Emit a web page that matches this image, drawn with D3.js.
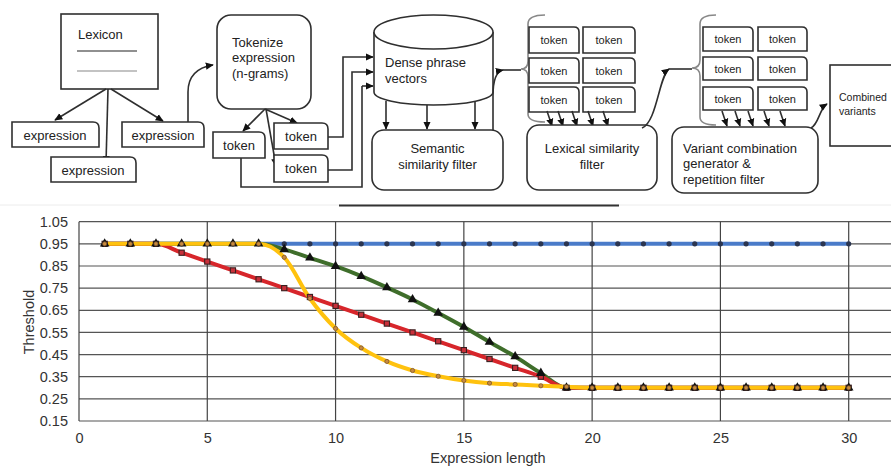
<!DOCTYPE html>
<html><head><meta charset="utf-8">
<script src="https://cdn.jsdelivr.net/npm/d3@7/dist/d3.min.js"></script>
<style>body{margin:0;background:#fff}svg{display:block;font-family:"Liberation Sans",Arial,sans-serif}</style>
</head><body>
<svg id="c" width="891" height="467"></svg>
<script>
// ---------- data ----------
const xValues = d3.range(1, 31);
const seriesNames = ["blue", "green", "red", "yellow"];
const blueValues = xValues.map(() => 0.95);
const greenValues = [0.95,0.95,0.95,0.95,0.95,0.95,0.95,0.925,0.887,0.849,0.804,0.753,0.699,0.638,0.575,0.507,0.441,0.366,0.30,0.30,0.30,0.30,0.30,0.30,0.30,0.30,0.30,0.30,0.30,0.30];
const redValues = [0.95,0.95,0.95,0.91,0.87,0.83,0.79,0.75,0.71,0.67,0.63,0.59,0.55,0.51,0.47,0.43,0.39,0.35,0.30,0.30,0.30,0.30,0.30,0.30,0.30,0.30,0.30,0.30,0.30,0.30];
const yellowValues = [0.95,0.95,0.95,0.95,0.95,0.95,0.95,0.889,0.703,0.568,0.48,0.419,0.378,0.352,0.333,0.321,0.315,0.309,0.305,0.30,0.30,0.30,0.30,0.30,0.30,0.30,0.30,0.30,0.30,0.30];
const xTicks = [0, 5, 10, 15, 20, 25, 30];
const yTicks = [0.15,0.25,0.35,0.45,0.55,0.65,0.75,0.85,0.95,1.05];
const xTitle = "Expression length";
const yTitle = "Threshold";

const svg = d3.select("#c");
const W = 891;

// ---------- diagram ----------
const ink = "#2f2f2f";
const defs = svg.append("defs");
defs.append("marker").attr("id","ah").attr("viewBox","0 0 10 10").attr("refX",9).attr("refY",5)
  .attr("markerWidth",8).attr("markerHeight",8).attr("markerUnits","userSpaceOnUse").attr("orient","auto")
  .append("path").attr("d","M0,0.5 L10,5 L0,9.5 Z").attr("fill","#111");

const dg = svg.append("g").attr("fill","none").attr("stroke",ink).attr("stroke-width",1.6);

function doc(x,y,w,h,r=6){
  dg.append("path").attr("d",`M${x},${y} H${x+w-r} Q${x+w},${y} ${x+w},${y+r} V${y+h} H${x} Z`).attr("fill","#fff");
}
function rr(x,y,w,h,r=12){
  dg.append("rect").attr("x",x).attr("y",y).attr("width",w).attr("height",h).attr("rx",r).attr("fill","#fff");
}
function arrow(d){ dg.append("path").attr("d",d).attr("marker-end","url(#ah)"); }
function line(d,col,w){ dg.append("path").attr("d",d).attr("stroke",col||ink).attr("stroke-width",w||1.6); }
function txt(x,y,s,size,anchor){
  svg.append("text").attr("x",x).attr("y",y).attr("font-size",size).attr("fill","#222")
    .attr("text-anchor",anchor||"middle").text(s);
}

// Lexicon
dg.append("rect").attr("x",61).attr("y",14).attr("width",97).attr("height",75).attr("fill","#fff");
txt(78,39,"Lexicon",13,"start");
line("M77,51 H137","#222",1.2);
line("M77,71 H137","#888",1.2);
arrow("M106,89 L55,120");
arrow("M108,89 L106,163");
arrow("M111,89 L163,121");
doc(12,122,87,25); txt(55,140,"expression",13);
doc(51,157,85,25); txt(93,175,"expression",13);
doc(122,122,82,25); txt(163,140,"expression",13);
arrow("M188,122 V92 Q188,69 213,65");

// Tokenize
rr(217,15,94,94,14);
txt(232,47,"Tokenize",13,"start");
txt(232,62,"expression",13,"start");
txt(232,78,"(n-grams)",13,"start");
line("M241,158 V187 H362 V86");
arrow("M362,86 H373");
arrow("M265,109 L243,131");
arrow("M265,109 L297,123");
arrow("M266,109 L276,166");
doc(213,132,52,26); txt(239,150,"token",13);
doc(274,123,54,26); txt(301,141,"token",13);
doc(274,155,54,27); txt(301,173,"token",13);
arrow("M328,137 H343 V57 H373");
arrow("M328,170 H352 V72 H373");

// Cylinder
dg.append("path").attr("d","M374,32 V92 A59.5,13 0 0 0 493,92 V32").attr("fill","#fff");
dg.append("ellipse").attr("cx",433.5).attr("cy",32).attr("rx",59.5).attr("ry",17).attr("fill","#fff");
txt(385,67,"Dense phrase",13,"start");
txt(385,83,"vectors",13,"start");
arrow("M386,101 V129");
arrow("M427,105 V129");
arrow("M475,101 V129");

// Semantic
rr(372,130,131,60,12);
txt(437.5,152.5,"Semantic",13);
txt(437.5,168.5,"similarity filter",13);
arrow("M493,130 V96 Q493,72 503,70");
line("M503,70 H521");
line("M545,15 Q528,15 528,24 V61 Q528,69 521,69 Q528,69 528,77 V114 Q528,122 545,122","#888",1.6);

// token grid 1
const g1c = [[529,50],[583,52]], g1r = [[27,26],[58,25],[87,25]];
g1r.forEach(([y,h]) => g1c.forEach(([x,w]) => { doc(x,y,w,h,5); txt(x+w/2,y+h/2+4,"token",11); }));
[552,563,577,593,608].forEach(x => arrow(`M${x-5},111 L${x},126`));

// Lexical
rr(527,125,130,65,12);
txt(592,152.5,"Lexical similarity",13);
txt(592,168.5,"filter",13);
arrow("M642,128 C657,122 659,76 669,69");
line("M669,69 H692");
line("M716,15 Q700,15 700,24 V60 Q700,68 692,68 Q700,68 700,76 V117 Q700,125 716,125","#888",1.6);

// token grid 2
const g2c = [[703,50],[758,49]], g2r = [[27,24],[57,23],[87,23]];
g2r.forEach(([y,h]) => g2c.forEach(([x,w]) => { doc(x,y,w,h,5); txt(x+w/2,y+h/2+4,"token",11); }));
[727,740,753,769,785].forEach(x => arrow(`M${x-5},111 L${x},126`));

// Variant
rr(672,127,146,66,12);
txt(683,152.5,"Variant combination",13,"start");
txt(683,167.5,"generator &",13,"start");
txt(683,183.5,"repetition filter",13,"start");
arrow("M811,128 C819,124 819,109 827,104");

// Combined
dg.append("rect").attr("x",830).attr("y",65).attr("width",80).attr("height",81).attr("fill","#fff");
txt(839,101,"Combined",10.5,"start");
txt(839,115,"variants",10.5,"start");

// separator
svg.append("line").attr("x1",0).attr("x2",W).attr("y1",205).attr("y2",205).attr("stroke","#ececec").attr("stroke-width",1);
svg.append("line").attr("x1",339).attr("x2",619).attr("y1",205.5).attr("y2",205.5).attr("stroke","#333").attr("stroke-width",2);

// ---------- chart ----------
const x = d3.scaleLinear().domain([0,30]).range([79,848.7]);
const y = d3.scaleLinear().domain([0.15,1.05]).range([421,221.7]);
const cg = svg.append("g");

// grid
cg.selectAll(".hg").data(yTicks).join("line").attr("x1",x(0)).attr("x2",W)
  .attr("y1",d=>y(d)).attr("y2",d=>y(d)).attr("stroke","#555").attr("stroke-width",1.2);
cg.selectAll(".vg").data(xTicks).join("line").attr("x1",d=>x(d)).attr("x2",d=>x(d))
  .attr("y1",y(1.05)).attr("y2",y(0.15)).attr("stroke","#444").attr("stroke-width",1.2);

// axes labels via d3 axes
const ya = cg.append("g").attr("transform",`translate(${x(0)},0)`)
  .call(d3.axisLeft(y).tickValues(yTicks).tickFormat(d3.format(".2f")).tickSize(0).tickPadding(11));
const xa = cg.append("g").attr("transform",`translate(0,${y(0.15)})`)
  .call(d3.axisBottom(x).tickValues(xTicks).tickFormat(d3.format("d")).tickSize(0).tickPadding(12));
[ya,xa].forEach(a => { a.select(".domain").remove(); a.selectAll("text").attr("font-size",14.5).attr("fill","#333").attr("font-family","Liberation Sans, Arial, sans-serif"); });

cg.append("text").attr("x",(79+891)/2+3).attr("y",463).attr("text-anchor","middle").attr("font-size",14.5).attr("fill","#333").text(xTitle);
cg.append("text").attr("transform","translate(34,322) rotate(-90)").attr("text-anchor","middle").attr("font-size",14.5).attr("fill","#333").text(yTitle);

// lines
const series = [
  {name:"blue", values:blueValues, color:"#4a7bc9"},
  {name:"green", values:greenValues, color:"#3f6e2b"},
  {name:"red", values:redValues, color:"#d7262b"},
  {name:"yellow", values:yellowValues, color:"#ffc20e"}
];
const lineGen = d3.line().x((d,i)=>x(xValues[i])).y(d=>y(d)).curve(d3.curveMonotoneX);
series.forEach(s => cg.append("path").datum(s.values).attr("d",lineGen)
  .attr("fill","none").attr("stroke",s.color).attr("stroke-width",4).attr("stroke-linejoin","round"));

// markers
const pts = v => v.map((d,i)=>({x:xValues[i], y:d}));
cg.append("g").selectAll("circle").data(pts(blueValues)).join("circle")
  .attr("cx",d=>x(d.x)).attr("cy",d=>y(d.y)).attr("r",2.6).attr("fill","#2b3550");
cg.append("g").selectAll("rect").data(pts(redValues)).join("rect")
  .attr("x",d=>x(d.x)-2.6).attr("y",d=>y(d.y)-2.6).attr("width",5.2).attr("height",5.2)
  .attr("fill","#c8303a").attr("stroke","#3a2020").attr("stroke-width",1.1);
cg.append("g").selectAll("path").data(pts(greenValues)).join("path")
  .attr("d",d3.symbol(d3.symbolTriangle,40)).attr("transform",d=>`translate(${x(d.x)},${y(d.y)})`).attr("fill","#111");
cg.append("g").selectAll("circle").data(pts(yellowValues)).join("circle")
  .attr("cx",d=>x(d.x)).attr("cy",d=>y(d.y)).attr("r",2.1).attr("fill","#c98a3e").attr("stroke","#7a5530").attr("stroke-width",0.8);
</script>
</body></html>
